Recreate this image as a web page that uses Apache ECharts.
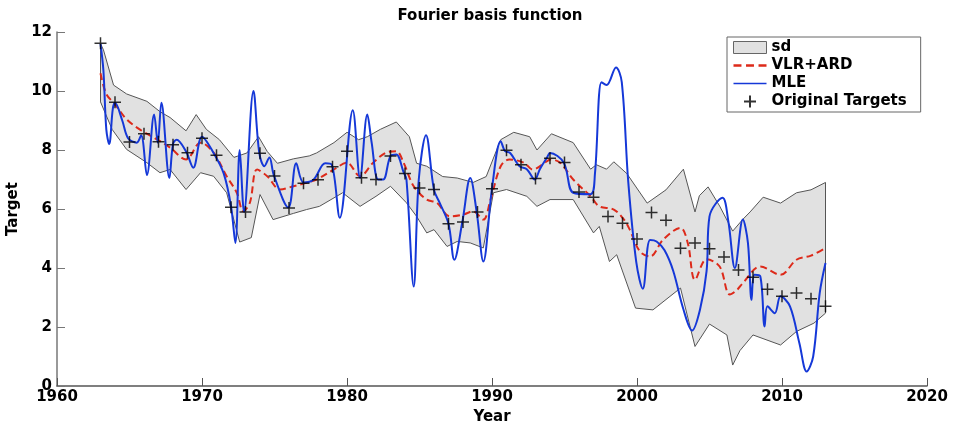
<!DOCTYPE html>
<html>
<head>
<meta charset="utf-8">
<script src="https://cdn.jsdelivr.net/npm/echarts@6/dist/echarts.min.js"></script>
<style>
html, body { margin: 0; padding: 0; background: #fff; }
#chart { width: 954px; height: 421px; }
</style>
</head>
<body>
<div id="chart"></div>
<script>
// target years 1963..2013 and the observed values
const years = [1963, 1964, 1965, 1966, 1967, 1968, 1969, 1970, 1971, 1972, 1973, 1974, 1975, 1976, 1977,
  1978, 1979, 1980, 1981, 1982, 1983, 1984, 1985, 1986, 1987, 1988, 1989, 1990, 1991, 1992, 1993, 1994,
  1995, 1996, 1997, 1998, 1999, 2000, 2001, 2002, 2003, 2004, 2005, 2006, 2007, 2008, 2009, 2010, 2011,
  2012, 2013]
const targets = [11.62, 9.62, 8.27, 8.55, 8.28, 8.18, 7.91, 8.40, 7.82, 6.06, 5.90, 7.89, 7.12, 6.03, 6.87,
  6.99, 7.43, 7.96, 7.06, 7.00, 7.80, 7.20, 6.71, 6.66, 5.50, 5.56, 5.90, 6.69, 7.99, 7.50, 7.03, 7.72,
  7.58, 6.58, 6.40, 5.75, 5.52, 4.98, 5.88, 5.62, 4.67, 4.85, 4.65, 4.37, 3.93, 3.69, 3.28, 3.04, 3.15,
  2.96, 2.70]

// sd band edges [year, value]
const sdUpper = [[1963, 11.6], [1963.2, 11.4], [1963.9, 10.2], [1964.8, 9.9], [1966.2, 9.65], [1967.1, 9.3],
  [1967.8, 9.1], [1968.9, 8.65], [1969.6, 9.2], [1970.3, 8.7], [1971.2, 8.35], [1972.2, 7.75], [1973.1, 7.9],
  [1973.9, 8.45], [1974.5, 7.95], [1975.2, 7.55], [1976.3, 7.7], [1977.4, 7.8], [1977.9, 7.9], [1979.1, 8.25],
  [1980.0, 8.6], [1980.8, 8.35], [1981.4, 8.45], [1982.3, 8.7], [1983.4, 8.95], [1984.3, 8.45], [1984.8, 7.55],
  [1985.5, 7.45], [1986.6, 7.1], [1987.6, 7.05], [1988.7, 6.9], [1989.6, 7.1], [1990.6, 8.35], [1991.5, 8.6],
  [1992.6, 8.45], [1993.1, 8.0], [1994.1, 8.55], [1995.6, 8.25], [1996.8, 7.35], [1997.2, 7.5], [1997.9, 7.35],
  [1998.4, 7.6], [1999.3, 7.2], [2000.7, 6.2], [2002.0, 6.65], [2003.2, 7.35], [2004.0, 5.9], [2004.3, 6.45],
  [2004.9, 6.75], [2005.7, 6.1], [2006.6, 5.25], [2007.3, 5.65], [2007.8, 5.9], [2008.7, 6.4], [2009.9, 6.2],
  [2011.0, 6.55], [2012.0, 6.65], [2013.0, 6.9]]
const sdLower = [[1963, 9.63], [1963.8, 8.7], [1964.8, 8.02], [1966.2, 7.57], [1967.1, 7.23], [1967.8, 7.34],
  [1968.9, 6.66], [1969.9, 7.23], [1970.8, 7.11], [1971.7, 6.55], [1972.6, 4.88], [1973.4, 5.03], [1974.0, 6.49],
  [1974.9, 5.64], [1976.3, 5.85], [1977.2, 5.98], [1978.1, 6.09], [1979.7, 6.55], [1980.9, 6.09], [1982.0, 6.43],
  [1983.0, 6.77], [1984.1, 6.21], [1984.8, 5.75], [1985.5, 5.19], [1986.0, 5.3], [1986.9, 4.73], [1987.6, 4.9],
  [1988.5, 4.85], [1989.4, 4.68], [1990.1, 6.55], [1991.0, 6.66], [1992.4, 6.43], [1993.1, 6.09], [1994.0, 6.32],
  [1995.6, 6.32], [1997.0, 5.19], [1997.4, 5.41], [1998.1, 4.22], [1998.6, 4.45], [1999.9, 2.64], [2001.1, 2.58],
  [2003.0, 3.32], [2004.0, 1.34], [2005.0, 2.1], [2006.2, 1.73], [2006.6, 0.71], [2007.1, 1.2], [2008.0, 1.73],
  [2009.9, 1.39], [2011.0, 1.85], [2012.2, 2.13], [2013.0, 2.47]]

// VLR+ARD predictive mean
const vlrArd = [[1963, 10.6], [1963.4, 9.9], [1964, 9.55], [1964.8, 9.04], [1965.7, 8.7], [1966.9, 8.36],
  [1967.8, 8.08], [1968.9, 7.68], [1969.9, 8.25], [1970.8, 7.91], [1971.7, 7.11], [1972.4, 6.55], [1972.85, 5.92],
  [1973.3, 6.21], [1973.8, 7.34], [1974.5, 7.11], [1975.4, 6.66], [1976.3, 6.77], [1977.2, 6.89], [1977.9, 7.0],
  [1979.1, 7.34], [1980.0, 7.57], [1980.9, 7.11], [1981.8, 7.57], [1982.7, 7.91], [1983.4, 7.96], [1983.9, 7.57],
  [1984.6, 6.77], [1985.5, 6.32], [1986.2, 6.21], [1987.1, 5.75], [1988.0, 5.81], [1988.7, 5.92], [1989.4, 5.64],
  [1989.9, 6.32], [1990.6, 7.45], [1991.2, 7.68], [1992.2, 7.57], [1992.8, 7.34], [1993.8, 7.62], [1994.0, 7.68],
  [1994.7, 7.57], [1995.6, 7.0], [1996.8, 6.43], [1997.4, 6.09], [1998.4, 5.98], [1999.1, 5.64], [1999.5, 5.3],
  [2000.2, 4.56], [2000.9, 4.39], [2001.8, 4.96], [2003.0, 5.36], [2003.5, 4.85], [2004.0, 3.6], [2004.8, 4.3],
  [2005.7, 4.05], [2006.4, 3.1], [2006.9, 3.26], [2007.3, 3.49], [2008.5, 4.05], [2009.9, 3.77], [2011.0, 4.28],
  [2012.0, 4.42], [2013.0, 4.68]]

// MLE fit
const mle = [[1963.0, 11.6], [1963.2, 10.7], [1963.4, 8.7], [1963.6, 8.2], [1963.85, 9.4], [1964.0, 9.6],
  [1964.5, 9.0], [1964.9, 8.4], [1965.5, 8.25], [1965.8, 8.5], [1966.2, 7.15], [1966.7, 9.2], [1966.95, 8.25],
  [1967.2, 9.6], [1967.75, 7.05], [1968.0, 8.2], [1968.25, 8.35], [1968.9, 7.95], [1969.4, 7.4], [1970.0, 8.45],
  [1970.8, 7.9], [1971.5, 7.2], [1972.0, 6.1], [1972.3, 4.85], [1972.6, 8.0], [1972.9, 5.9], [1973.55, 10.0],
  [1973.95, 7.9], [1974.3, 7.45], [1974.65, 7.75], [1974.95, 7.15], [1975.95, 6.05], [1976.5, 7.55], [1977.0, 6.9],
  [1977.7, 7.0], [1978.5, 7.55], [1978.95, 7.5], [1979.5, 5.7], [1980.4, 9.35], [1980.9, 7.05], [1981.4, 9.2],
  [1981.7, 8.25], [1982.15, 7.0], [1982.5, 7.0], [1983.0, 7.8], [1983.4, 7.85], [1983.9, 7.25], [1984.1, 7.0],
  [1984.6, 3.37], [1984.95, 7.0], [1985.45, 8.5], [1986.0, 6.65], [1986.4, 6.2], [1987.0, 5.5], [1987.4, 4.28],
  [1987.95, 5.55], [1988.5, 7.05], [1988.95, 5.87], [1989.4, 4.22], [1990.0, 6.7], [1990.6, 8.3], [1990.9, 7.96],
  [1991.25, 7.9], [1991.9, 7.45], [1992.4, 7.35], [1992.95, 7.0], [1993.3, 7.35], [1993.8, 7.75], [1994.0, 7.9],
  [1994.95, 7.57], [1995.6, 6.55], [1996.8, 6.5], [1997.1, 7.2], [1997.55, 10.3], [1997.9, 10.2], [1998.55, 10.8],
  [1998.95, 10.3], [1999.4, 6.9], [1999.95, 4.2], [2000.4, 3.3], [2000.9, 4.95], [2001.35, 4.9], [2001.9, 4.6],
  [2002.5, 3.9], [2003.2, 2.6], [2003.8, 1.88], [2004.35, 2.6], [2004.8, 3.9], [2005.0, 5.75], [2005.9, 6.38],
  [2006.3, 5.58], [2006.75, 4.0], [2007.3, 5.64], [2007.65, 4.85], [2007.9, 2.92], [2008.1, 3.77], [2008.5, 3.72],
  [2008.8, 2.02], [2009.0, 2.7], [2009.5, 2.47], [2009.9, 3.04], [2010.55, 2.7], [2011.2, 1.45], [2011.7, 0.49],
  [2012.15, 1.0], [2012.6, 3.15], [2013.0, 4.17]]

const FONT = 'DejaVu Sans'
const RED = '#dd2a1a'
const BLUE = '#1538d8'
const bandPoly = sdUpper.concat(sdLower.slice().reverse())

const chart = echarts.init(document.getElementById('chart'))
chart.setOption({
  animation: false,
  title: {
    text: 'Fourier basis function',
    left: 490, top: 9, padding: 0, textAlign: 'center',
    textStyle: { fontFamily: FONT, fontWeight: 'bold', fontSize: 15, color: '#000' }
  },
  grid: { left: 57, right: 27, top: 32, bottom: 35, containLabel: false, outerBoundsMode: 'none' },
  legend: {
    orient: 'vertical', left: 727, top: 37,
    padding: [3, 14, 3, 6],
    itemWidth: 33, itemHeight: 12, itemGap: 3,
    borderColor: '#666', borderWidth: 1, backgroundColor: '#fff',
    textStyle: { fontFamily: FONT, fontWeight: 'bold', fontSize: 15, color: '#000' },
    data: [
      { name: 'sd', icon: 'rect', itemStyle: { color: '#e1e1e1', borderColor: '#666', borderWidth: 1 } },
      { name: 'VLR+ARD', icon: 'path://M0,0h7v2h-7zM11,0h7v2h-7zM22,0h7v2h-7z', itemStyle: { color: RED, borderWidth: 0 } },
      { name: 'MLE', icon: 'path://M0,0h33v1.6h-33z', itemStyle: { color: BLUE, borderWidth: 0 } },
      { name: 'Original Targets' }
    ]
  },
  xAxis: {
    type: 'value', min: 1960, max: 2020, interval: 10,
    name: 'Year', nameLocation: 'middle', nameGap: 17,
    nameTextStyle: { fontFamily: FONT, fontWeight: 'bold', fontSize: 15, color: '#000' },
    axisLine: { lineStyle: { color: '#555', width: 1.5 } },
    axisTick: { inside: true, length: 8, lineStyle: { color: '#555' } },
    axisLabel: {
      fontFamily: FONT, fontWeight: 'bold', fontSize: 15, color: '#000', margin: 4,
      formatter: function (v) { return String(v) }
    },
    splitLine: { show: false }
  },
  yAxis: {
    type: 'value', min: 0, max: 12, interval: 2,
    name: 'Target', nameLocation: 'middle', nameGap: 33,
    nameTextStyle: { fontFamily: FONT, fontWeight: 'bold', fontSize: 15, color: '#000' },
    axisLine: { show: true, lineStyle: { color: '#777', width: 1.5 } },
    axisTick: { show: true, inside: true, length: 8, lineStyle: { color: '#777' } },
    axisLabel: { fontFamily: FONT, fontWeight: 'bold', fontSize: 15, color: '#000', margin: 5 },
    splitLine: { show: false }
  },
  series: [
    {
      name: 'sd', type: 'custom', data: [0], silent: true, z: 1,
      renderItem: function (params, api) {
        return {
          type: 'polygon',
          shape: { points: bandPoly.map(function (p) { return api.coord(p) }) },
          style: { fill: '#e1e1e1', stroke: '#555', lineWidth: 1 }
        }
      }
    },
    {
      name: 'VLR+ARD', type: 'line', data: vlrArd, smooth: 0.35, symbol: 'none', z: 3,
      lineStyle: { color: RED, width: 2, type: [7, 4] },
      itemStyle: { color: RED }
    },
    {
      name: 'MLE', type: 'line', data: mle, smooth: 0.35, symbol: 'none', z: 4,
      lineStyle: { color: BLUE, width: 2 },
      itemStyle: { color: BLUE }
    },
    {
      name: 'Original Targets', type: 'scatter', z: 5,
      data: years.map(function (y, i) { return [y, targets[i]] }),
      symbol: 'path://M0,5L10,5M5,0L5,10', symbolSize: 12,
      itemStyle: { color: 'rgba(0,0,0,0)', borderColor: '#000', borderWidth: 1.5 }
    }
  ]
})
</script>
</body>
</html>
